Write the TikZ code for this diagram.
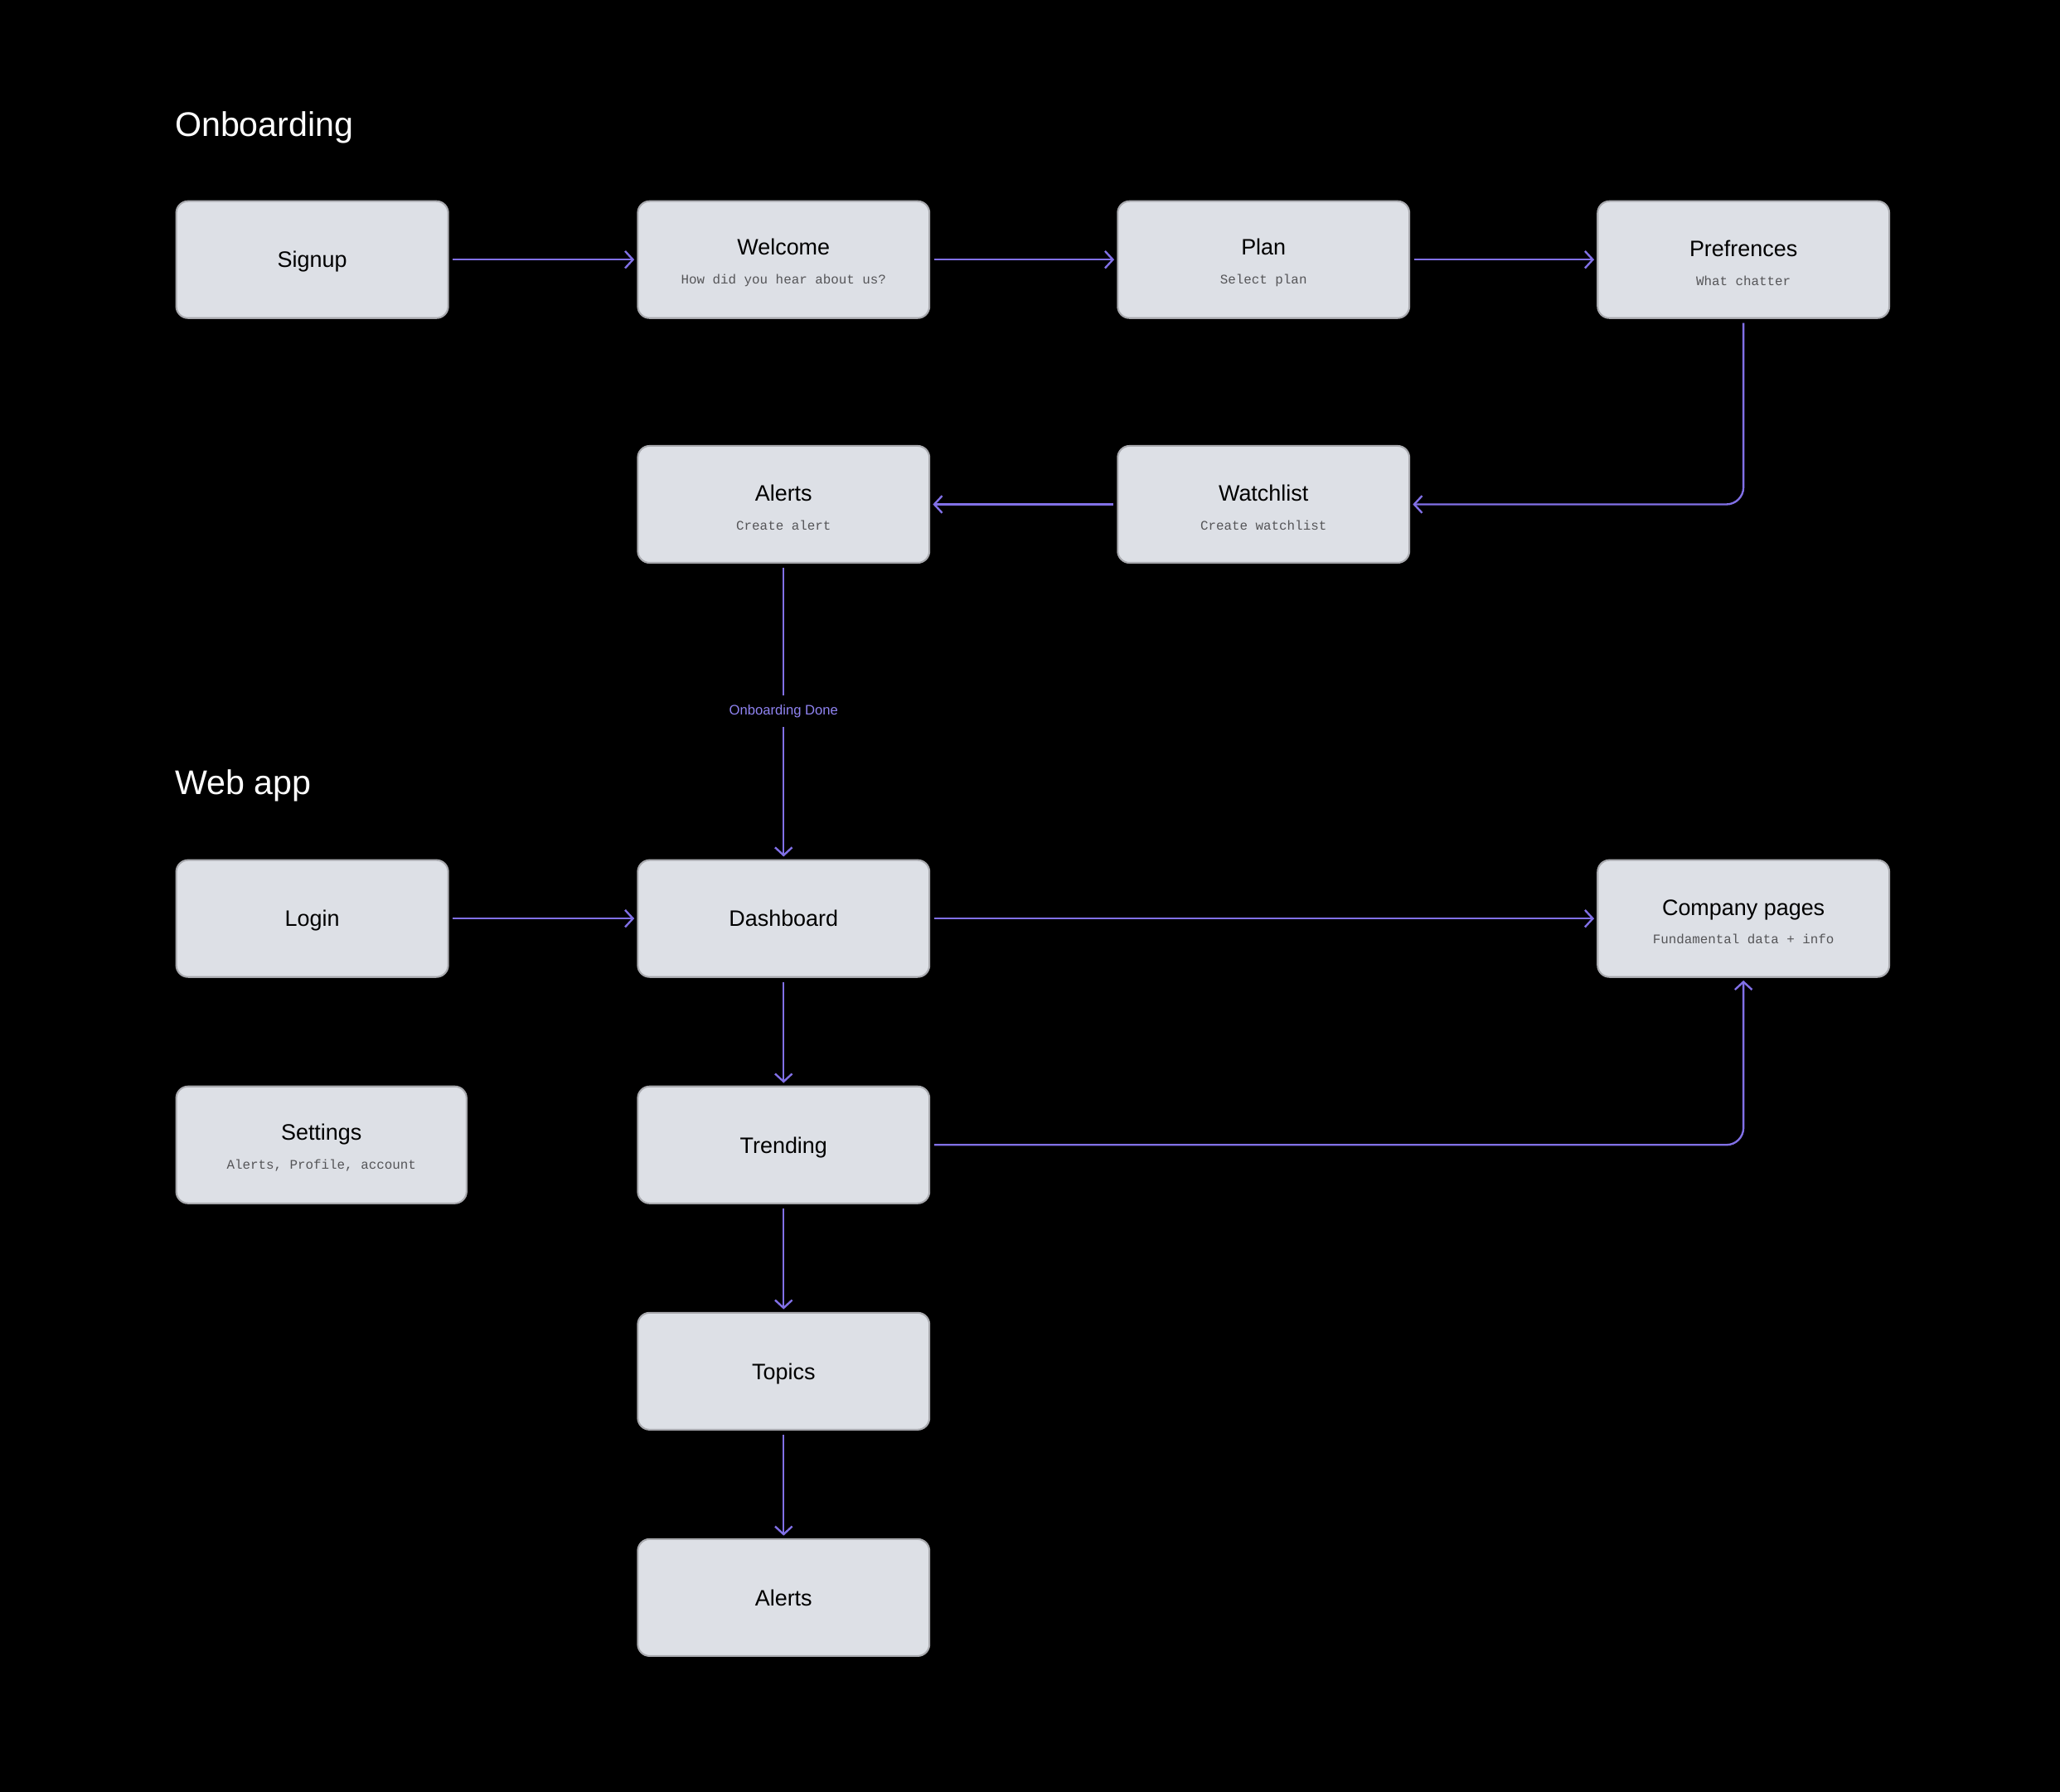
\documentclass[tikz,border=0pt]{standalone}
\usepackage{fontspec}
\setmainfont{Liberation Sans}
\setmonofont{Liberation Mono}
\usepackage{tikz}
\usetikzlibrary{arrows.meta,positioning,calc}

\definecolor{boxfill}{HTML}{DDE0E6}
\definecolor{boxline}{HTML}{A9AAAF}
\definecolor{flowline}{HTML}{8170E6}
\definecolor{donetext}{HTML}{9084F2}
\definecolor{subtext}{HTML}{555558}

% screen name with a small mono hint below it
\newcommand{\screentext}[2]{\rule{0pt}{17pt}#1\\{\fontsize{10}{22}\selectfont\ttfamily\color{subtext}#2}}

\begin{document}
\begin{tikzpicture}[node distance=82pt]
        \tikzstyle{screen}=[rectangle, rounded corners=9pt, draw=boxline, line width=1.3pt, fill=boxfill, text=black, align=center, minimum width=222pt, minimum height=89pt, font=\fontsize{17}{22}\selectfont]
        \tikzstyle{single}=[screen, text depth=0pt]
        \tikzstyle{heading}=[text=white, inner sep=0pt, anchor=base west, font=\fontsize{26}{30}\selectfont]
        \tikzstyle{flow}=[draw=flowline, line width=1.5pt, -{Straight Barb[length=6pt,width=13pt]}, shorten <=3pt, shorten >=2pt]
        \tikzstyle{donelabel}=[fill=black, text=donetext, inner xsep=2pt, inner ysep=7pt, font=\fontsize{10.5}{12}\selectfont]

        \fill[black] (0,0) rectangle (1568pt,-1364pt);

        % Onboarding
        \node (onboarding) [heading] at (133pt,-104pt) {Onboarding};
        \node (signup) [single, minimum width=207pt, anchor=north west] at (133.5pt,-152.5pt) {Signup};
        \node (welcome) [screen, right=143pt of signup] {\screentext{Welcome}{How did you hear about us?}};
        \node (plan) [screen, right=142pt of welcome] {\screentext{Plan}{Select plan}};
        \node (prefs) [screen, right=142pt of plan] {\screentext{Prefrences}{What chatter}};
        \node (watchlist) [screen, below=96pt of plan] {\screentext{Watchlist}{Create watchlist}};
        \node (alerts) [screen, below=96pt of welcome] {\screentext{Alerts}{Create alert}};

        % Web app
        \node (webapp) [heading] at (133pt,-605pt) {Web app};
        \node (dashboard) [single, below=225pt of alerts] {Dashboard};
        \node (login) [single, minimum width=207pt, left=143pt of dashboard] {Login};
        \node (company) [screen] at (prefs |- dashboard) {\screentext{Company pages}{Fundamental data + info}};
        \node (settings) [screen, minimum width=221pt, below=of login.south west, anchor=north west] {\screentext{Settings}{Alerts, Profile, account}};
        \node (trending) [single, below=of dashboard] {Trending};
        \node (topics) [single, below=of trending] {Topics};
        \node (alertsapp) [single, below=of topics] {Alerts};

        % Arrows
        \draw[flow] (signup) -- (welcome);
        \draw[flow] (welcome) -- (plan);
        \draw[flow] (plan) -- (prefs);
        \draw[flow, rounded corners=13pt] (prefs) |- (watchlist);
        \draw[flow] (watchlist) -- (alerts);
        \draw[flow] (alerts) -- node[donelabel] (done) {Onboarding Done} (dashboard);
        \draw[flow] (login) -- (dashboard);
        \draw[flow] (dashboard) -- (company);
        \draw[flow] (dashboard) -- (trending);
        \draw[flow, rounded corners=13pt] (trending) -| (company);
        \draw[flow] (trending) -- (topics);
        \draw[flow] (topics) -- (alertsapp);
    \end{tikzpicture}
\end{document}
